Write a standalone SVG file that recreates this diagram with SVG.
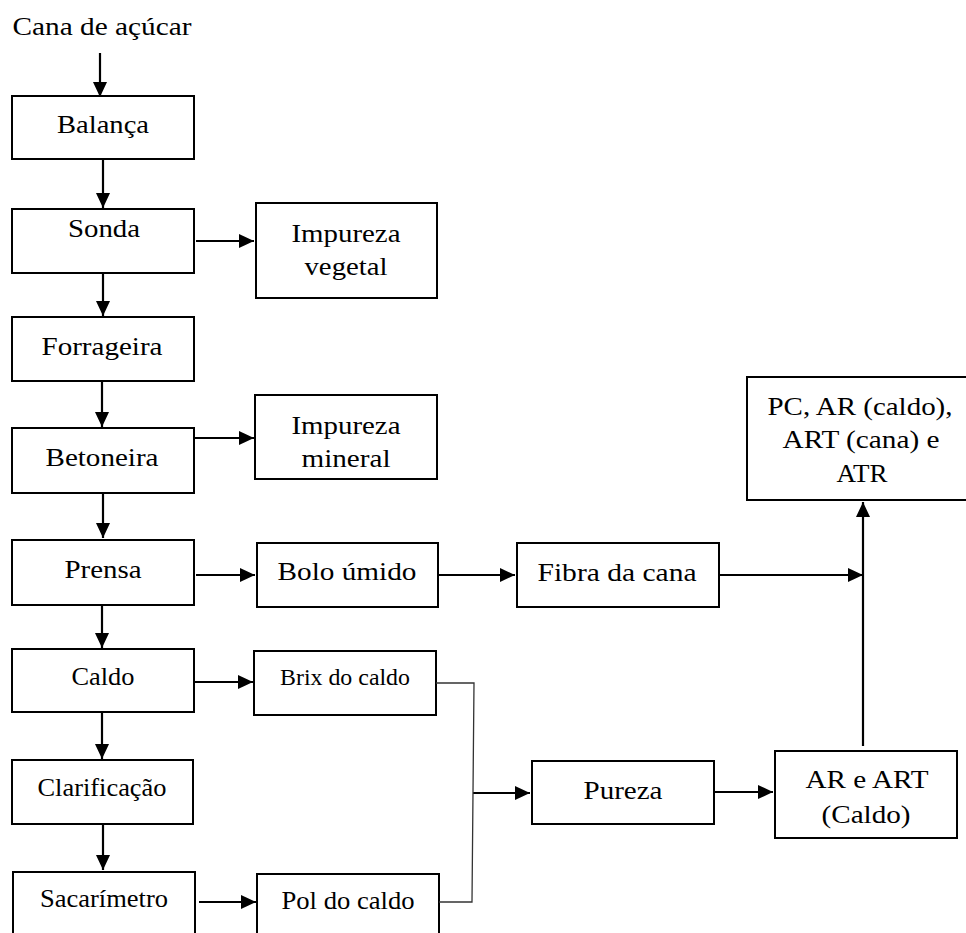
<svg xmlns="http://www.w3.org/2000/svg" width="966" height="933" viewBox="0 0 966 933">
<style>
.box{fill:#fff;stroke:#000;stroke-width:2}
text{font-family:'Liberation Serif','Times New Roman',Times,serif;font-size:25px;fill:#000;text-anchor:middle}
.sm{font-size:23px}
.c{fill:none;stroke:#000;stroke-width:2.2}
.thin{fill:none;stroke:#333;stroke-width:1.3}
</style>
<defs>
<marker id="ah" markerUnits="userSpaceOnUse" markerWidth="15" markerHeight="14" refX="15" refY="7" orient="auto">
<path d="M0,0 L15,7 L0,14 z" fill="#000"/>
</marker>
</defs>
<rect width="966" height="933" fill="#fff"/>
<g font-family="Liberation Serif, serif">
<text x="102" y="35" textLength="179" lengthAdjust="spacingAndGlyphs">Cana de açúcar</text>
<g id="balanca"><rect class="box" x="12" y="96" width="182" height="63"/><text x="103" y="133" textLength="92" lengthAdjust="spacingAndGlyphs">Balança</text></g>
<g id="sonda"><rect class="box" x="12" y="209" width="182" height="64"/><text x="104" y="237" textLength="72" lengthAdjust="spacingAndGlyphs">Sonda</text></g>
<g id="impveg"><rect class="box" x="256" y="203" width="181" height="95"/><text x="346" y="242" textLength="109" lengthAdjust="spacingAndGlyphs">Impureza</text><text x="346" y="275" textLength="83" lengthAdjust="spacingAndGlyphs">vegetal</text></g>
<g id="forrageira"><rect class="box" x="12" y="317" width="182" height="64"/><text x="102" y="355" textLength="121" lengthAdjust="spacingAndGlyphs">Forrageira</text></g>
<g id="betoneira"><rect class="box" x="12" y="428" width="182" height="65"/><text x="102" y="466" textLength="113" lengthAdjust="spacingAndGlyphs">Betoneira</text></g>
<g id="impmin"><rect class="box" x="255" y="395" width="182" height="84"/><text x="346" y="434" textLength="109" lengthAdjust="spacingAndGlyphs">Impureza</text><text x="346" y="467" textLength="89" lengthAdjust="spacingAndGlyphs">mineral</text></g>
<g id="prensa"><rect class="box" x="12" y="540" width="182" height="65"/><text x="103" y="578" textLength="77" lengthAdjust="spacingAndGlyphs">Prensa</text></g>
<g id="bolo"><rect class="box" x="257" y="543" width="181" height="64"/><text x="347" y="580" textLength="139" lengthAdjust="spacingAndGlyphs">Bolo úmido</text></g>
<g id="fibra"><rect class="box" x="517" y="543" width="202" height="64"/><text x="617" y="581" textLength="159" lengthAdjust="spacingAndGlyphs">Fibra da cana</text></g>
<g id="pc"><rect class="box" x="747" y="377" width="230" height="123"/><text x="860" y="415" textLength="185" lengthAdjust="spacingAndGlyphs">PC, AR (caldo),</text><text x="861" y="448" textLength="157" lengthAdjust="spacingAndGlyphs">ART (cana) e</text><text x="862" y="482" textLength="51" lengthAdjust="spacingAndGlyphs">ATR</text></g>
<g id="caldo"><rect class="box" x="12" y="649" width="182" height="63"/><text x="103" y="685" textLength="63" lengthAdjust="spacingAndGlyphs">Caldo</text></g>
<g id="brix"><rect class="box" x="254" y="651" width="182" height="64"/><text class="sm" x="345" y="685" textLength="130" lengthAdjust="spacingAndGlyphs">Brix do caldo</text></g>
<g id="clarificacao"><rect class="box" x="12" y="760" width="181" height="64"/><text x="102" y="796" textLength="129" lengthAdjust="spacingAndGlyphs">Clarificação</text></g>
<g id="sacarimetro"><rect class="box" x="13" y="872" width="182" height="80"/><text x="104" y="907" textLength="128" lengthAdjust="spacingAndGlyphs">Sacarímetro</text></g>
<g id="pol"><rect class="box" x="257" y="874" width="182" height="80"/><text x="348" y="909" textLength="133" lengthAdjust="spacingAndGlyphs">Pol do caldo</text></g>
<g id="pureza"><rect class="box" x="532" y="761" width="182" height="63"/><text x="623" y="799" textLength="79" lengthAdjust="spacingAndGlyphs">Pureza</text></g>
<g id="arart"><rect class="box" x="775" y="751" width="182" height="87"/><text x="867" y="788" textLength="123" lengthAdjust="spacingAndGlyphs">AR e ART</text><text x="866" y="823" textLength="89" lengthAdjust="spacingAndGlyphs">(Caldo)</text></g>
</g>
<g id="connectors">
<path class="c" d="M100,53 V97" marker-end="url(#ah)"/>
<path class="c" d="M103,159 V208" marker-end="url(#ah)"/>
<path class="c" d="M103,273 V316" marker-end="url(#ah)"/>
<path class="c" d="M102,381 V427" marker-end="url(#ah)"/>
<path class="c" d="M103,493 V538" marker-end="url(#ah)"/>
<path class="c" d="M102,605 V648" marker-end="url(#ah)"/>
<path class="c" d="M102,712 V759" marker-end="url(#ah)"/>
<path class="c" d="M103,824 V870" marker-end="url(#ah)"/>
<path class="c" d="M196,241 H254" marker-end="url(#ah)"/>
<path class="c" d="M195,438 H254" marker-end="url(#ah)"/>
<path class="c" d="M196,575 H255" marker-end="url(#ah)"/>
<path class="c" d="M438,575 H515" marker-end="url(#ah)"/>
<path class="c" d="M719,575 H863" marker-end="url(#ah)"/>
<path class="c" d="M863,746 V502" marker-end="url(#ah)"/>
<path class="c" d="M195,682 H253" marker-end="url(#ah)"/>
<path class="c" d="M199,902 H256" marker-end="url(#ah)"/>
<path class="c" d="M473,793 H530" marker-end="url(#ah)"/>
<path class="c" d="M714,792 H773" marker-end="url(#ah)"/>
<path class="thin" d="M436,683 H474 L472,902 H439"/>
</g>
</svg>
